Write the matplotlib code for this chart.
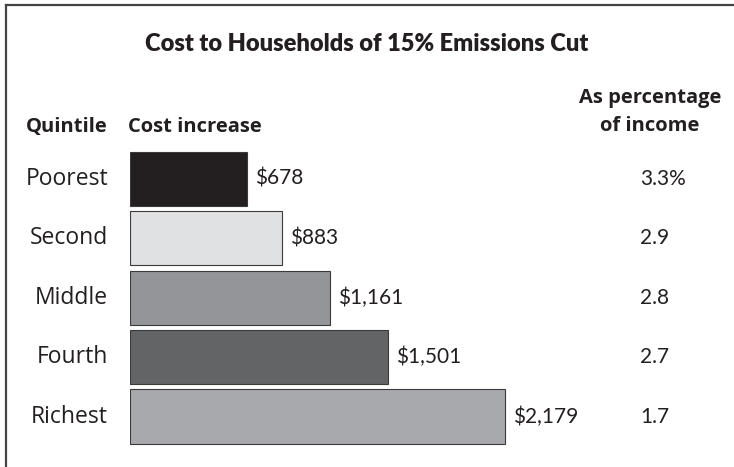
import matplotlib
matplotlib.use("Agg")
import matplotlib.pyplot as plt
from matplotlib.lines import Line2D
from matplotlib.transforms import blended_transform_factory

# household cost of a 15% emissions cut, by income quintile
quintiles = ["Poorest", "Second", "Middle", "Fourth", "Richest"]
cost_increase = [678, 883, 1161, 1501, 2179]
pct_income = ["3.3%", "2.9", "2.8", "2.7", "1.7"]
bar_colors = ["#231f20", "#e0e1e3", "#939598", "#636466", "#a7a9ac"]

W, H = 734, 467
txt_color = "#231f20"
body_font = ["Open Sans", "DejaVu Sans"]
num_font = ["Lato", "DejaVu Sans"]
title_font = ["Lato", "DejaVu Sans"]

fig = plt.figure(figsize=(W / 100, H / 100), dpi=100)

# axes placed in pixel terms: bars start at x=130, rows centred 179..416
px_per_dollar = 0.172
ax_left = 130
ax_top, ax_bot = 149.3, 446.2
ax = fig.add_axes([ax_left / W, 1 - ax_bot / H, (W - ax_left) / W, (ax_bot - ax_top) / H])
ax.set_xlim(0, (W - ax_left) / px_per_dollar)
ax.set_ylim(len(quintiles) - 0.5, -0.5)
ax.axis("off")

ypos = list(range(len(quintiles)))
ax.barh(ypos, cost_increase, height=0.91, color=bar_colors,
        edgecolor="#3a3a3a", linewidth=0.8)

for i, v in enumerate(cost_increase):
    ax.annotate(f"${v:,}", xy=(v, i), xytext=(6, 0), textcoords="offset points",
                ha="left", va="center", fontsize=15, color=txt_color, family=num_font)

# row labels and income share column, x in figure coords, y in data coords
tr = blended_transform_factory(fig.transFigure, ax.transData)
for i, (q, p) in enumerate(zip(quintiles, pct_income)):
    ax.text(108 / W, i, q, transform=tr, ha="right", va="center",
            fontsize=16.5, color=txt_color, family=body_font)
    ax.text(640 / W, i, p, transform=tr, ha="left", va="center",
            fontsize=15, color=txt_color, family=num_font)

# headers
fig.text(367 / W, 1 - 44 / H, "Cost to Households of 15% Emissions Cut",
         ha="center", va="center", fontsize=17, fontweight="heavy",
         color=txt_color, family=title_font)
hdr = dict(fontsize=14.5, fontweight="bold", color=txt_color, family=body_font)
fig.text(26 / W, 1 - 127 / H, "Quintile", ha="left", va="center", **hdr)
fig.text(128 / W, 1 - 127 / H, "Cost increase", ha="left", va="center", **hdr)
fig.text(650 / W, 1 - 98 / H, "As percentage", ha="center", va="center", **hdr)
fig.text(650 / W, 1 - 126 / H, "of income", ha="center", va="center", **hdr)

# frame: left and top rules only
fig.add_artist(Line2D([6 / W, 6 / W], [0, 1 - 5 / H], transform=fig.transFigure,
                      color="#444444", linewidth=1.6))
fig.add_artist(Line2D([6 / W, 1], [1 - 5 / H, 1 - 5 / H], transform=fig.transFigure,
                      color="#444444", linewidth=1.6))

fig.savefig("out.png", dpi=100)
